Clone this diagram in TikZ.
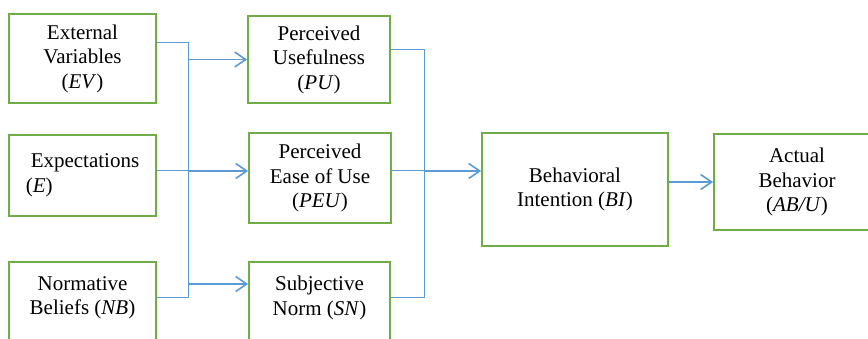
\documentclass[tikz,border=0pt]{standalone}
\usepackage{fontspec}
\setmainfont{Liberation Serif}
\usetikzlibrary{arrows.meta}
\definecolor{boxgreen}{RGB}{112,173,71}
\definecolor{lineblue}{RGB}{91,155,213}

\begin{document}
\begin{tikzpicture}[x=1pt,y=-1pt,
        box/.style={draw=boxgreen,line width=1.8pt,fill=white,inner sep=0pt,
                align=center,font=\fontsize{21}{24.5}\selectfont},
        txt/.style={align=center,inner sep=0pt,font=\fontsize{21}{24.5}\selectfont},
        link/.style={draw=lineblue,line width=1pt},
        arr/.style={draw=lineblue,line width=1.6pt,-{Straight Barb[length=11pt,width=15pt]}}]
        \useasboundingbox (0,0) rectangle (868,339);
        \clip (0,0) rectangle (868,339);

        % left column
        \node[box,minimum width=147pt,minimum height=89pt] (EV) at (82.5,58.5)
            {External\\Variables\\(\textit{EV})};
        \node[box,minimum width=147pt,minimum height=81pt,align=left] (E) at (82.5,175.5)
            {\hspace*{5pt}Expectations\\(\textit{E})};
        \node[box,minimum width=147pt,minimum height=100pt,anchor=north] (NB) at (82.5,261) {};
        \node[txt] (NBt) at (82.5,298) {Normative\\Beliefs (\textit{NB})};

        % middle column
        \node[box,minimum width=142pt,minimum height=87pt] (PU) at (319,59.5)
            {Perceived\\Usefulness\\(\textit{PU})};
        \node[box,minimum width=142pt,minimum height=90pt] (PEU) at (320,178)
            {Perceived\\Ease of Use\\(\textit{PEU})};
        \node[box,minimum width=141pt,minimum height=100pt,anchor=north] (SN) at (319.5,261) {};
        \node[txt] (SNt) at (319.5,298) {Subjective\\Norm (\textit{SN})};

        % right side
        \node[box,minimum width=186pt,minimum height=113pt] (BI) at (575,189.5)
            {Behavioral\\Intention (\textit{BI})};
        \node[box,minimum width=166pt,minimum height=96pt] (AB) at (797,182)
            {Actual\\Behavior\\(\textit{AB/U})};

        \coordinate (L1) at (188,43);
        \coordinate (M) at (188,171);
        \coordinate (L2) at (188,298);
        \coordinate (L3) at (188,284);
        \coordinate (R1) at (424,50);
        \coordinate (R) at (424,171);
        \coordinate (R2) at (424,298);

        \path[link] (EV.east |- L1) -- (L1) -- (L2) -- (NB.east |- L2);
        \path[link] (E.east |- M) -- (M);
        \path[arr] (L1 |- PU.west) -- (PU.west);
        \path[arr] (M) -- (PEU.west |- M);
        \path[arr] (L3) -- (SN.west |- L3);

        \path[link] (PU.east |- R1) -- (R1) -- (R2) -- (SN.east |- R2);
        \path[link] (PEU.east |- R) -- (R);
        \path[arr] (R) -- (BI.west |- R);
        \path[arr] (BI.east |- AB.west) -- (AB.west);
    \end{tikzpicture}
\end{document}
